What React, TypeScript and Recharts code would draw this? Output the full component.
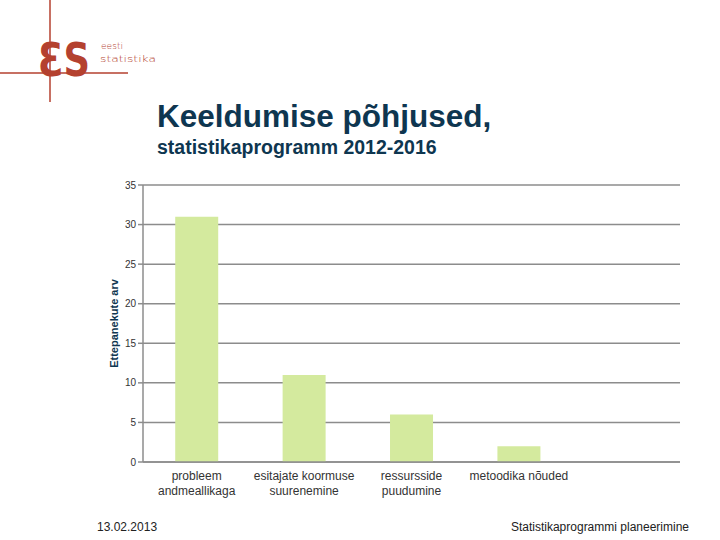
import React from 'react'
import { Bar, BarChart, CartesianGrid, XAxis, YAxis } from 'recharts'

const categories = ['probleem andmeallikaga', 'esitajate koormuse suurenemine', 'ressursside puudumine', 'metoodika nõuded', '']
const counts: Array<number | null> = [31, 11, 6, 2, null]
const yTicks = [0, 5, 10, 15, 20, 25, 30, 35]

const xLabelLines: Record<string, string[]> = {
  'probleem andmeallikaga': ['probleem', 'andmeallikaga'],
  'esitajate koormuse suurenemine': ['esitajate koormuse', 'suurenemine'],
  'ressursside puudumine': ['ressursside', 'puudumine'],
  'metoodika nõuded': ['metoodika nõuded'],
  '': [],
}

const data = categories.map((name, i) => ({ name, value: counts[i] }))

const RED = '#b4412f'
const NAVY = '#0e3650'
const FONT = 'Arial, "Liberation Sans", sans-serif'
const LOGO_FONT = '"DejaVu Sans", sans-serif'

function XTick({ x, y, payload }: any) {
  const lines = xLabelLines[payload.value] ?? [payload.value]
  return (
    <text x={x} y={y} textAnchor="middle" fontSize={12} fill="#333" fontFamily={FONT}>
      {lines.map((line, i) => (
        <tspan key={i} x={x} dy={i === 0 ? 10 : 15}>{line}</tspan>
      ))}
    </text>
  )
}

export default function App() {
  return (
    <div style={{ position: 'absolute', left: 0, top: 0, width: 720, height: 540, background: '#fff', fontFamily: FONT }}>
      <svg width={720} height={540} style={{ position: 'absolute', left: 0, top: 0 }}>
        <line x1={50} y1={0} x2={50} y2={102} stroke={RED} strokeWidth={1.5} />
        <line x1={0} y1={73} x2={128} y2={73} stroke={RED} strokeWidth={1.5} />
        <g transform="translate(38,76) scale(0.8,1)">
          <text x={0} y={0} fontSize={46} fill={RED} fontFamily={LOGO_FONT} fontWeight="bold">ƐS</text>
        </g>
        <text x={101} y={49} fontSize={9} fill={RED} fontFamily={LOGO_FONT} fontWeight={200} textLength={22} lengthAdjust="spacingAndGlyphs">eesti</text>
        <text x={100} y={62} fontSize={9} fill={RED} fontFamily={LOGO_FONT} fontWeight={200} textLength={56} lengthAdjust="spacingAndGlyphs">statistika</text>
        <text x={157} y={127} fontSize={31.5} fontWeight="bold" fill={NAVY} fontFamily={FONT}>Keeldumise põhjused,</text>
        <text x={157} y={154} fontSize={19.5} fontWeight="bold" fill={NAVY} fontFamily={FONT}>statistikaprogramm 2012-2016</text>
        <text x={97} y={531} fontSize={12} fill="#222" fontFamily={FONT}>13.02.2013</text>
        <text x={689} y={531} fontSize={12} fill="#222" fontFamily={FONT} textAnchor="end">Statistikaprogrammi planeerimine</text>
      </svg>
      <div style={{ position: 'absolute', left: 0, top: 0 }}>
        <BarChart width={720} height={540} data={data} margin={{ top: 185, right: 40, left: 0, bottom: 0 }} barCategoryGap="30%">
          <CartesianGrid vertical={false} stroke="#8c8c8c" strokeWidth={1.5} />
          <XAxis
            dataKey="name"
            height={78}
            interval={0}
            tick={<XTick />}
            tickLine={false}
            axisLine={{ stroke: '#8c8c8c', strokeWidth: 1.5 }}
          />
          <YAxis
            width={143}
            domain={[0, 35]}
            ticks={yTicks}
            interval={0}
            tick={{ fontSize: 10, fill: '#333', fontFamily: FONT }}
            tickSize={5}
            tickLine={{ stroke: '#8c8c8c', strokeWidth: 1.5 }}
            axisLine={{ stroke: '#8c8c8c', strokeWidth: 1.5 }}
            label={{
              value: 'Ettepanekute arv',
              angle: -90,
              position: 'insideLeft',
              offset: 0,
              dx: 114,
              dy: 0,
              style: { fontSize: 11, fontWeight: 'bold', fill: NAVY, fontFamily: FONT, textAnchor: 'middle' },
            }}
          />
          <Bar dataKey="value" fill="#d4ea9e" isAnimationActive={false} />
        </BarChart>
      </div>
    </div>
  )
}
